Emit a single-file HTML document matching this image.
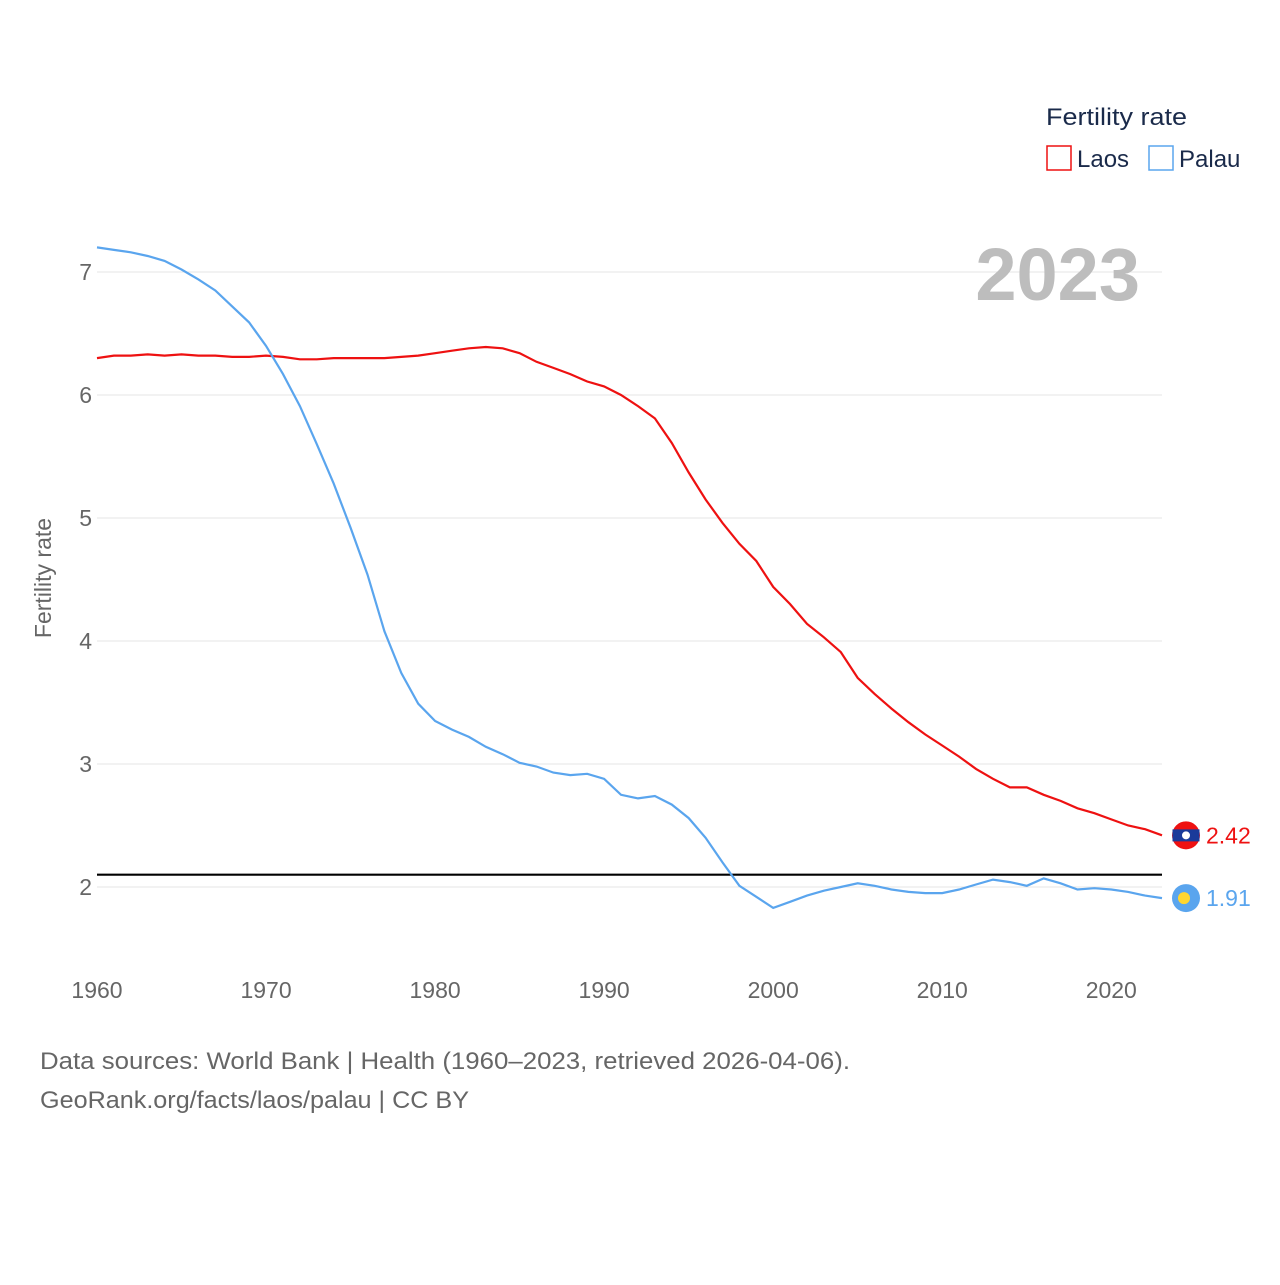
<!DOCTYPE html>
<html><head><meta charset="utf-8"><style>
body{margin:0;background:#fff;font-family:"Liberation Sans",sans-serif;}
svg text{font-family:"Liberation Sans",sans-serif;}
</style></head><body>
<svg id="chart" width="1280" height="1280" xmlns="http://www.w3.org/2000/svg">
<g id="grid"></g><g id="lines"></g>
<text x="1046" y="125" font-size="24" fill="#1a2a4a" textLength="141" lengthAdjust="spacingAndGlyphs">Fertility rate</text>
<rect x="1047" y="146" width="24" height="24" fill="none" stroke="#ee1111" stroke-width="1.5"/>
<text x="1077" y="167" font-size="24" fill="#1a2a4a">Laos</text>
<rect x="1149" y="146" width="24" height="24" fill="none" stroke="#5aa5ee" stroke-width="1.5"/>
<text x="1179" y="167" font-size="24" fill="#1a2a4a">Palau</text>
<text x="1140" y="300" font-size="74" font-weight="bold" fill="#bdbdbd" text-anchor="end">2023</text>
<text transform="translate(51,578) rotate(-90)" font-size="23" fill="#666" text-anchor="middle">Fertility rate</text>
<text x="40" y="1069" font-size="24" fill="#666" textLength="810" lengthAdjust="spacingAndGlyphs">Data sources: World Bank | Health (1960–2023, retrieved 2026-04-06).</text>
<text x="40" y="1108" font-size="24" fill="#666" textLength="429" lengthAdjust="spacingAndGlyphs">GeoRank.org/facts/laos/palau | CC BY</text>
</svg>
<script>
const years=[];for(let y=1960;y<=2023;y++)years.push(y);
const laos=[6.30,6.32,6.32,6.33,6.32,6.33,6.32,6.32,6.31,6.31,6.32,6.31,6.29,6.29,6.30,6.30,6.30,6.30,6.31,6.32,6.34,6.36,6.38,6.39,6.38,6.34,6.27,6.22,6.17,6.11,6.07,6.00,5.91,5.81,5.61,5.37,5.15,4.96,4.79,4.65,4.44,4.30,4.14,4.03,3.91,3.70,3.57,3.45,3.34,3.24,3.15,3.06,2.96,2.88,2.81,2.81,2.75,2.70,2.64,2.60,2.55,2.50,2.47,2.42];
const palau=[7.20,7.18,7.16,7.13,7.09,7.02,6.94,6.85,6.72,6.59,6.40,6.17,5.91,5.60,5.28,4.92,4.54,4.08,3.74,3.49,3.35,3.28,3.22,3.14,3.08,3.01,2.98,2.93,2.91,2.92,2.88,2.75,2.72,2.74,2.67,2.56,2.40,2.20,2.01,1.92,1.83,1.88,1.93,1.97,2.00,2.03,2.01,1.98,1.96,1.95,1.95,1.98,2.02,2.06,2.04,2.01,2.07,2.03,1.98,1.99,1.98,1.96,1.93,1.91];
const yTicks=[2,3,4,5,6,7];
const xTicks=[1960,1970,1980,1990,2000,2010,2020];
const refValue=2.1;
const X=y=>97+(y-1960)*(1162-97)/63;
const Y=v=>887-(v-2)*123;
const NS="http://www.w3.org/2000/svg";
const grid=document.getElementById('grid'),lines=document.getElementById('lines');
function mk(tag,at,parent){const e=document.createElementNS(NS,tag);for(const k in at)e.setAttribute(k,at[k]);parent.appendChild(e);return e;}
yTicks.forEach(v=>{
 const l=mk('line',{x1:97,x2:1162,y1:Y(v),y2:Y(v),stroke:'#e6e6e6','stroke-width':1},grid);
 
 
 const t=mk('text',{x:92,y:Y(v)+8,'font-size':23,fill:'#666','text-anchor':'end'},grid);t.textContent=v;
 
 
});
xTicks.forEach(v=>{
 const t=mk('text',{x:X(v),y:998,'font-size':23,fill:'#666','text-anchor':'middle'},grid);t.textContent=v;
 
 
});
const ref=mk('line',{x1:97,x2:1162,y1:Y(refValue),y2:Y(refValue),stroke:'#000','stroke-width':2.2},lines);


function series(data,color,name){
 const p=mk('path',{d:data.map((v,i)=>(i?'L':'M')+X(years[i]).toFixed(1)+' '+Y(v).toFixed(1)).join(''),fill:'none',stroke:color,'stroke-width':2.2},lines);
 
 
 const last=data[data.length-1];const cy=Y(last);
 const c=mk('circle',{cx:1186,cy:cy,r:14,fill:color},lines);
 
 
 const t=mk('text',{x:1206,y:cy+8,'font-size':23,fill:color},lines);t.textContent=last.toFixed(2);
 
 
 return cy;
}
const cyL=series(laos,'#ee1111','laos');
mk('path',{d:`M1172.5 ${cyL-6} H1199.5 V${cyL+6} H1172.5 Z`,fill:'#1a3a9a'},lines);
mk('circle',{cx:1186,cy:cyL,r:4,fill:'#fff'},lines);
const cyP=series(palau,'#5aa5ee','palau');
mk('circle',{cx:1184,cy:cyP,r:6,fill:'#ffd630'},lines);
</script>
</body></html>
